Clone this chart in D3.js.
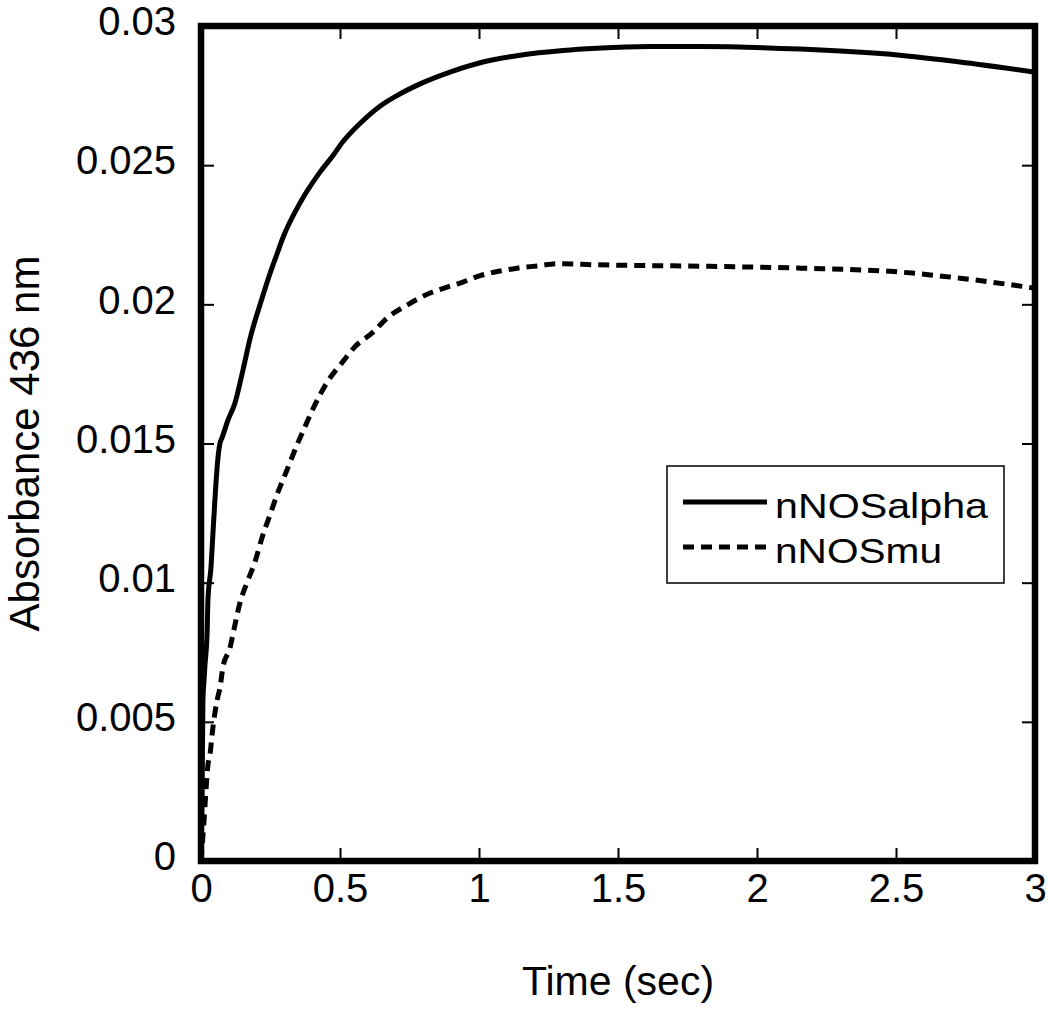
<!DOCTYPE html>
<html>
<head>
<meta charset="utf-8">
<script src="https://cdn.jsdelivr.net/npm/d3@7"></script>
<style>
body{margin:0;background:#fff;}
svg{font-family:"Liberation Sans",Arial,Helvetica,sans-serif;}
.axis text{font-size:40px;fill:#000;}
.axis line{stroke:#000;stroke-width:2;}
.axis path{display:none;}
</style>
</head>
<body>
<svg id="chart"></svg>
<script>
// nNOSalpha trace (time in sec, absorbance at 436 nm)
var alphaT = [0,0.0036,0.007,0.011,0.014,0.022,0.025,0.036,0.043,0.050,0.058,0.068,0.0755,0.097,0.122,0.151,0.176,0.219,0.248,0.273,0.295,0.356,0.428,0.475,0.511,0.572,0.644,0.705,0.788,0.906,1.004,1.147,1.302,1.424,1.615,1.795,2.155,2.514,2.694,3.0];
var alphaA = [0,0.0022,0.0058,0.0065,0.0070,0.0082,0.0094,0.01056,0.01178,0.01297,0.01415,0.0150,0.0152,0.01584,0.01645,0.01764,0.01875,0.0202,0.0211,0.0218,0.0224,0.02364,0.02475,0.02535,0.02585,0.0265,0.02712,0.0275,0.02792,0.02838,0.02868,0.02895,0.02912,0.0292,0.02926,0.02926,0.02917,0.02895,0.02875,0.02834];
// nNOSmu trace
var muT = [0,0.011,0.018,0.025,0.032,0.043,0.058,0.068,0.079,0.104,0.122,0.140,0.165,0.194,0.219,0.248,0.277,0.309,0.345,0.374,0.403,0.457,0.511,0.554,0.619,0.673,0.741,0.806,0.885,0.942,1.004,1.076,1.137,1.209,1.281,1.424,1.795,2.155,2.514,2.730,3.0];
var muA = [0,0.00147,0.00255,0.00345,0.00381,0.00481,0.00578,0.00621,0.00697,0.00765,0.00848,0.00927,0.00999,0.01074,0.0116,0.01243,0.01325,0.01404,0.01494,0.0156,0.01625,0.01725,0.01795,0.01848,0.019,0.01954,0.01997,0.02033,0.02062,0.0208,0.02103,0.0212,0.0213,0.02138,0.02146,0.02142,0.02137,0.0213,0.02116,0.02094,0.02058];

var seriesNames = ['nNOSalpha','nNOSmu'];
var xTicks = [0,0.5,1,1.5,2,2.5,3];
var yTicks = [0,0.005,0.01,0.015,0.02,0.025,0.03];
var xTitle = 'Time (sec)', yTitle = 'Absorbance 436 nm';

//drawing environment
var W = 1050, H = 1010;
var m = {t:26,r:15,b:149,l:201},
	w = W - m.l - m.r,
	h = H - m.t - m.b;

var svg = d3.select('#chart').attr('width',W).attr('height',H);
var plot = svg.append('g').attr('transform','translate('+m.l+','+m.t+')');

var scaleX = d3.scaleLinear().domain([0,3]).range([0,w]),
	scaleY = d3.scaleLinear().domain([0,0.03]).range([h,0]);

function zip(ts,as){ return ts.map(function(t,i){ return {t:t,a:as[i]}; }); }

var line = d3.line()
	.x(function(d){return scaleX(d.t)})
	.y(function(d){return scaleY(d.a)})
	.curve(d3.curveMonotoneX);

plot.append('path').datum(zip(alphaT,alphaA))
	.attr('d',line)
	.attr('fill','none').attr('stroke','#000').attr('stroke-width',5)
	.attr('stroke-linejoin','round');
plot.append('path').datum(zip(muT,muA))
	.attr('d',line)
	.attr('fill','none').attr('stroke','#000').attr('stroke-width',5)
	.attr('stroke-dasharray','11,7');

//axes: inward ticks on all four sides
var TICK = 13;
plot.append('g').attr('class','axis')
	.attr('transform','translate(0,'+h+')')
	.call(d3.axisBottom(scaleX).tickValues(xTicks).tickSize(-TICK).tickPadding(13).tickFormat(d3.format('')));
plot.append('g').attr('class','axis')
	.call(d3.axisTop(scaleX).tickValues(xTicks).tickSize(-TICK).tickFormat(''));
var yAx = plot.append('g').attr('class','axis')
	.call(d3.axisLeft(scaleY).tickValues(yTicks).tickSize(-TICK).tickPadding(25).tickFormat(d3.format('')));
yAx.selectAll('text').attr('dy','0.22em');
plot.append('g').attr('class','axis')
	.attr('transform','translate('+w+',0)')
	.call(d3.axisRight(scaleY).tickValues(yTicks).tickSize(-TICK).tickFormat(''));

//frame
plot.append('rect')
	.attr('x',0).attr('y',0).attr('width',w).attr('height',h)
	.attr('fill','none').attr('stroke','#000').attr('stroke-width',6.5);

//titles
svg.append('text')
	.attr('x',m.l + w/2).attr('y',995)
	.attr('text-anchor','middle').attr('font-size',41)
	.text(xTitle);
svg.append('text')
	.attr('transform','translate(39,'+(m.t + h/2)+') rotate(-90)')
	.attr('text-anchor','middle').attr('font-size',42)
	.text(yTitle);

//legend
var legend = svg.append('g').attr('transform','translate(667,466)');
legend.append('rect')
	.attr('width',337).attr('height',117)
	.attr('fill','#fff').attr('stroke','#000').attr('stroke-width',1.5);
var rows = legend.selectAll('.row')
	.data(seriesNames)
	.enter().append('g').attr('class','row')
	.attr('transform',function(d,i){return 'translate(0,'+(36+i*45)+')'});
rows.append('line')
	.attr('x1',16).attr('x2',100)
	.attr('stroke','#000').attr('stroke-width',5)
	.attr('stroke-dasharray',function(d,i){return i===0?null:'11,7'});
rows.append('text')
	.attr('x',108).attr('y',16)
	.attr('font-size',35)
	.attr('textLength',function(d,i){return i===0?213:167})
	.attr('lengthAdjust','spacingAndGlyphs')
	.text(function(d){return d});
</script>
</body>
</html>
